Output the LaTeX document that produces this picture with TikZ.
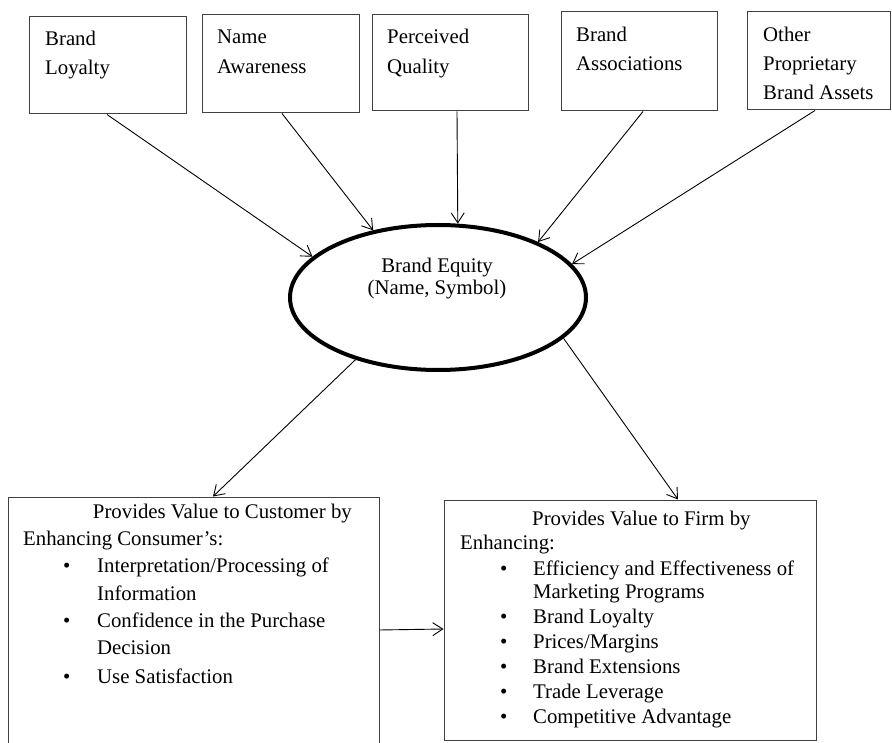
\documentclass[tikz,border=0pt]{standalone}
\usepackage{fontspec}
\setmainfont{Liberation Serif}
\usetikzlibrary{shapes.geometric,arrows.meta}
\tikzset{
  box/.style={draw=black!75, line width=1pt, rectangle, inner sep=0pt},
  txt/.style={anchor=base west, inner sep=0pt, font=\fontsize{20.8}{25}\selectfont},
  ctxt/.style={anchor=base, inner sep=0pt, font=\fontsize{20.8}{25}\selectfont},
  arr/.style={line width=0.9pt, -{Straight Barb[length=10pt,width=13pt,line width=0.9pt]}},
}
\begin{document}
\begin{tikzpicture}[x=1pt,y=-1pt]
\clip (0,0) rectangle (892,743);
\fill[white] (0,0) rectangle (892,743);
% top boxes
\node[box, minimum width=157, minimum height=97] (b1) at (107.5,65.5) {};
\node[box, minimum width=157, minimum height=98] (b2) at (280.5,64) {};
\node[box, minimum width=156, minimum height=96] (b3) at (450,63) {};
\node[box, minimum width=156, minimum height=99] (b4) at (639,61.5) {};
\node[box, minimum width=143, minimum height=98] (b5) at (818.5,61) {};
\node[txt] (t1a) at (45,46) {Brand};
\node[txt] (t1b) at (45,75) {Loyalty};
\node[txt] (t2a) at (217,44) {Name};
\node[txt] (t2b) at (217,74) {Awareness};
\node[txt] (t3a) at (387,44) {Perceived};
\node[txt] (t3b) at (387,74) {Quality};
\node[txt] (t4a) at (576,42) {Brand};
\node[txt] (t4b) at (576,71) {Associations};
\node[txt] (t5a) at (763,42) {Other};
\node[txt] (t5b) at (763,71) {Proprietary};
\node[txt] (t5c) at (763,100) {Brand Assets};
% ellipse
\node[ellipse, draw=black, line width=4pt, minimum width=296, minimum height=145, inner sep=0pt] (eq) at (438,297.5) {};
\node[ctxt] (eqa) at (437,273) {Brand Equity};
\node[ctxt] (eqb) at (437,295) {(Name, Symbol)};
% arrows to ellipse
\draw[arr] ([xshift=-0.5pt]b1.south) -- (eq.162.8);
\draw[arr] ([xshift=1.5pt]b2.south) -- (eq.134.8);
\draw[arr] ([xshift=7pt]b3.south) -- (eq.75.2);
\draw[arr] ([xshift=4pt]b4.south) -- (eq.29.3);
\draw[arr] ([xshift=-3.5pt]b5.south) -- (eq.14.0);
% bottom boxes
\node[box, minimum width=371, minimum height=266] (lb) at (193.5,630) {};
\node[box, minimum width=372, minimum height=240] (rb) at (630,620) {};
\draw[arr] (eq.217.4) -- ([xshift=19.5pt]lb.north);
\draw[arr] (eq.342.5) -- ([xshift=48pt]rb.north);
\draw[arr] (lb.east) -- ([yshift=-9pt]rb.west);
% left box text
\node[txt, anchor=base east] (l0) at (352,518) {Provides Value to Customer by};
\node[txt] (l1) at (23,545) {Enhancing Consumer’s:};
\node[txt] (lb1) at (63,572) {•};
\node[txt] (l2) at (97,572) {Interpretation/Processing of};
\node[txt] (l3) at (97,600) {Information};
\node[txt] (lb2) at (63,627) {•};
\node[txt] (l4) at (97,627) {Confidence in the Purchase};
\node[txt] (l5) at (97,654) {Decision};
\node[txt] (lb3) at (63,683) {•};
\node[txt] (l6) at (97,683) {Use Satisfaction};
% right box text
\node[txt] (r0) at (532,525) {Provides Value to Firm by};
\node[txt] (r1) at (460,549) {Enhancing:};
\node[txt] (rb1) at (500,575) {•};
\node[txt] (r2) at (533,575) {Efficiency and Effectiveness of};
\node[txt] (r3) at (533,598) {Marketing Programs};
\node[txt] (rb2) at (500,623) {•};
\node[txt] (r4) at (533,623) {Brand Loyalty};
\node[txt] (rb3) at (500,648) {•};
\node[txt] (r5) at (533,648) {Prices/Margins};
\node[txt] (rb4) at (500,673) {•};
\node[txt] (r6) at (533,673) {Brand Extensions};
\node[txt] (rb5) at (500,698) {•};
\node[txt] (r7) at (533,698) {Trade Leverage};
\node[txt] (rb6) at (500,723) {•};
\node[txt] (r8) at (533,723) {Competitive Advantage};
\end{tikzpicture}
\end{document}
